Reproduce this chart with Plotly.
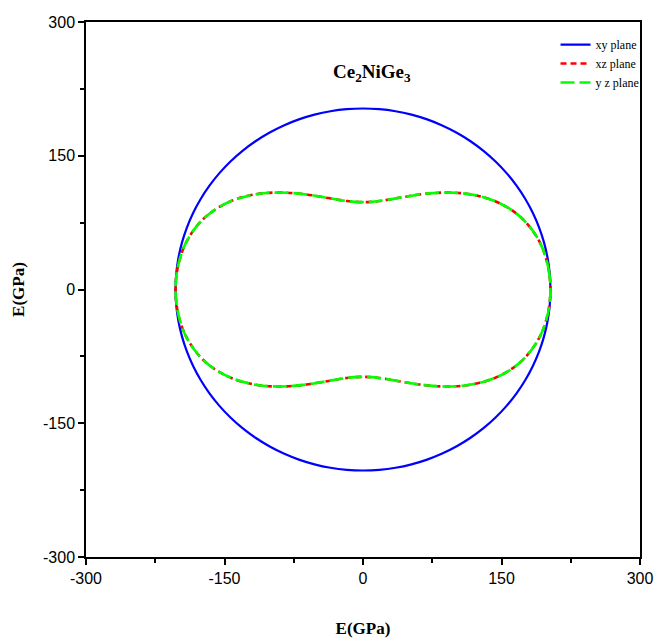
import numpy as np
import plotly.graph_objects as go

# Angles (deg) for one quadrant, and radii E (GPa)
angles_deg = [0, 5, 10, 15, 20, 25, 30, 35, 40, 45, 50, 55, 60, 65, 70, 75, 80, 85, 90]
E_xy = [203, 203, 203, 203, 203, 203, 203, 203, 203, 203, 203, 203, 203, 203, 203, 203, 203, 203, 203]
E_xz = [203, 202.6, 201.3, 199.0, 195.0, 189.6, 182.3, 173.4, 163.3, 152.6, 142.0,
        132.0, 123.1, 115.4, 109.1, 104.2, 100.7, 98.7, 98.0]
E_yz = list(E_xz)

tick_vals = [-300, -150, 0, 150, 300]
tick_text = ["-300", "-150", "0", "150", "300"]


def full_curve(ang, r):
    # mirror one quadrant into a full closed curve (symmetry of the plane)
    a = list(ang) + [180 - v for v in ang[::-1]][1:] + [180 + v for v in ang][1:] + [360 - v for v in ang[::-1]][1:]
    rr = list(r) + list(r[::-1])[1:] + list(r)[1:] + list(r[::-1])[1:]
    a = np.radians(np.array(a, dtype=float))
    rr = np.array(rr, dtype=float)
    return rr * np.cos(a), rr * np.sin(a)


fig = go.Figure()
x, y = full_curve(angles_deg, E_xy)
fig.add_trace(go.Scatter(x=x, y=y, mode="lines", name="xy plane",
                         line=dict(color="#0000ff", width=2.2, shape="spline")))
x, y = full_curve(angles_deg, E_xz)
fig.add_trace(go.Scatter(x=x, y=y, mode="lines", name="xz plane",
                         line=dict(color="#ff0000", width=2.6, shape="spline", dash="6px,4px")))
x, y = full_curve(angles_deg, E_yz)
fig.add_trace(go.Scatter(x=x, y=y, mode="lines", name="y z plane",
                         line=dict(color="#00ff00", width=2.6, shape="spline", dash="14px,5px")))

axis_common = dict(
    range=[-300, 300], tickvals=tick_vals, ticktext=tick_text, automargin=False,
    showgrid=False, zeroline=False, showline=True, linecolor="black", linewidth=1.5,
    mirror=True, ticks="outside", ticklen=6, tickwidth=1.5, tickcolor="black",
    tickfont=dict(family="Liberation Sans, Arial", size=16, color="black"),
    minor=dict(tickvals=[-225, -75, 75, 225], ticks="outside", ticklen=4,
               tickwidth=1.5, tickcolor="black"),
)

fig.update_layout(
    width=656, height=644,
    margin=dict(l=86, r=15, t=22, b=87),
    plot_bgcolor="white", paper_bgcolor="white",
    showlegend=True,
    legend=dict(x=0.846, y=0.985, xanchor="left", yanchor="top",
                bgcolor="rgba(0,0,0,0)", borderwidth=0,
                font=dict(family="Liberation Serif, Times New Roman", size=12, color="black"),
                tracegroupgap=0, itemwidth=30),
    xaxis=dict(**axis_common,
               title=dict(text="<b>E(GPa)</b>", standoff=36,
                          font=dict(family="Liberation Serif, Times New Roman", size=17, color="black"))),
    yaxis=dict(**axis_common,
               title=dict(text="<b>E(GPa)</b>", standoff=14,
                          font=dict(family="Liberation Serif, Times New Roman", size=17, color="black"))),
    annotations=[dict(text="<b>Ce<sub>2</sub>NiGe<sub>3</sub></b>", x=0.517, y=0.905,
                      xref="paper", yref="paper", showarrow=False, yanchor="middle",
                      font=dict(family="Liberation Serif, Times New Roman", size=19, color="black"))],
)

fig.write_html("out.html")
